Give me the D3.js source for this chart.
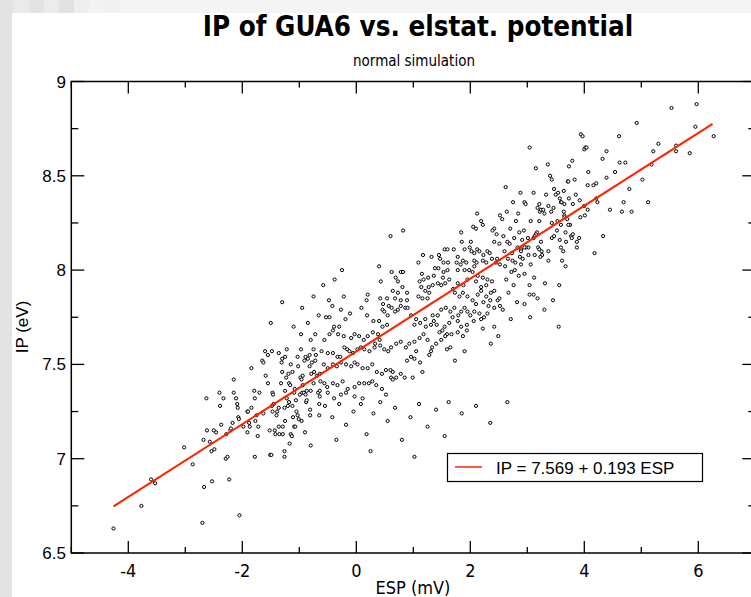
<!DOCTYPE html>
<html>
<head>
<meta charset="utf-8">
<script src="https://cdn.jsdelivr.net/npm/d3@7"></script>
<style>
  body { margin: 0; background: #e3e3e3; }
  svg { display: block; }
  text { fill: #000; }
</style>
</head>
<body>
<div id="vis"></div>
<script>
// values
var esp = [
  -4.26,-3.77,-3.60,-3.53,-3.02,-2.87,-2.70,-2.67,-2.68,-2.53,-2.62,-2.63,-2.57,-2.54,-2.49,-2.50,-2.46,-2.40,-2.39,-2.37,
  -2.33,-2.28,-2.29,-2.26,-2.23,-2.21,-2.20,-2.17,-2.15,-2.15,-2.11,-2.09,-2.08,-2.07,-2.06,-2.05,-1.98,-1.91,-1.90,-1.88,
  -1.91,-1.87,-1.84,-1.84,-1.79,-1.78,-1.78,-1.77,-1.75,-1.73,-1.72,-1.70,-1.65,-1.63,-1.63,-1.60,-1.59,-1.55,-1.55,-1.52,
  -1.51,-1.49,-1.48,-1.47,-1.46,-1.48,-1.47,-1.45,-1.43,-1.42,-1.40,-1.39,-1.36,-1.36,-1.35,-1.36,-1.32,-1.31,-1.30,-1.30,
  -1.29,-1.29,-1.26,-1.26,-1.26,-1.25,-1.25,-1.25,-1.23,-1.22,-1.22,-1.20,-1.19,-1.18,-1.18,-1.17,-1.16,-1.15,-1.15,-1.13,
  -1.12,-1.11,-1.12,-1.09,-1.09,-1.08,-1.07,-1.06,-1.05,-1.03,-1.03,-1.02,-1.01,-0.99,-0.98,-0.97,-0.97,-0.96,-0.96,-0.95,
  -0.94,-0.94,-0.92,-0.91,-0.90,-0.89,-0.89,-0.88,-0.87,-0.87,-0.85,-0.82,-0.82,-0.81,-0.81,-0.80,-0.80,-0.80,-0.79,-0.78,
  -0.75,-0.75,-0.74,-0.72,-0.72,-0.71,-0.69,-0.67,-0.65,-0.65,-0.64,-0.64,-0.64,-0.63,
  3.04,3.15,3.36,3.40,3.43,3.71,3.72,3.73,3.79,3.83,3.94,3.97,4.00,4.02,4.04,4.07,4.06,4.16,4.21,4.32,
  4.39,4.39,4.54,4.61,4.62,4.72,4.92,5.02,4.79,4.69,4.66,4.45,4.23,4.21,4.83,5.12,5.18,5.21,5.30,5.53,
  5.61,5.61,5.85,5.95,5.97,6.27,4.33,4.18,3.11,2.95,2.97,3.21,3.18,3.22,3.24,3.28,3.30,3.33,3.37,3.42,
  3.46,3.47,3.50,3.54,3.57,3.59,3.60,3.64,3.65,3.64,3.65,3.73,3.80,3.85,3.92,3.93,4.00,4.01,4.06,3.65,
  3.70,3.75,3.72,3.59,3.53,3.43,3.06,3.21,2.94,2.91,3.01,3.02,2.98,2.95,2.89,2.89,2.92,3.17,3.15,3.13,
  3.11,3.19,3.21,3.24,3.25,3.26,3.23,3.13,3.02,3.06,2.89,2.95,3.12,3.04,3.31,3.56,3.37,3.37,3.43,3.47,
  3.52,3.57,3.59,3.63,3.61,3.67,3.68,3.67,3.77,3.80,3.78,3.87,3.87,3.91,3.11,3.04,
  0.60,0.82,2.12,2.52,2.19,2.22,2.05,2.10,2.42,2.46,2.39,1.84,2.01,1.85,2.51,2.42,
  0.40,0.62,0.78,0.82,0.43,0.69,0.73,1.17,1.32,1.09,1.15,1.11,1.18,1.26,1.36,1.45,1.47,1.55,1.60,1.71,
  1.53,1.61,1.76,1.78,1.83,1.90,1.93,1.87,1.99,2.02,2.07,2.12,2.16,2.23,2.30,2.34,2.38,2.45,2.47,2.52,
  2.22,2.28,2.07,2.11,1.60,1.53,1.44,1.38,1.52,1.63,1.56,1.49,1.43,1.34,1.27,1.21,1.14,1.09,1.16,1.25,1.28,
  1.78,1.90,1.98,2.04,2.07,2.13,2.22,2.30,2.38,2.28,2.19,2.10,1.95,1.88,1.78,1.70,1.73,1.81,1.87,1.95,
  2.04,2.10,2.13,2.19,2.28,2.36,2.42,2.48,2.52,2.42,2.32,2.23,2.35,2.51,
  -0.22,0.20,0.18,0.54,0.64,0.73,0.81,0.89,0.89,0.78,0.68,0.57,0.62,0.42,0.47,0.46,0.49,0.55,0.68,0.73,
  0.78,0.86,0.90,0.96,1.05,1.02,1.12,1.21,1.22,1.31,1.36,1.41,1.34,1.43,1.49,1.57,1.65,1.72,1.69,1.79,
  1.84,1.90,1.95,2.00,2.07,2.16,2.24,2.30,2.19,2.06,1.94,1.84,1.78,1.63,1.55,1.51,1.46,1.59,1.67,1.78,
  1.87,1.94,2.42,2.22,2.36,2.49,
  -0.53,-0.47,-0.42,-0.27,-0.19,-0.11,0.09,0.19,0.30,0.40,0.46,0.54,0.29,0.38,0.41,0.33,0.20,0.13,0.05,-0.03,
  -0.09,-0.22,-0.32,-0.41,-0.39,-0.47,-0.56,-0.61,-0.50,-0.41,-0.33,-0.28,-0.21,-0.16,-0.12,-0.06,0.02,0.08,0.14,0.23,
  0.32,0.42,0.49,0.56,0.61,0.70,0.78,0.87,0.93,1.02,1.11,1.18,1.25,1.33,1.40,1.49,1.56,1.31,1.59,1.65,
  -0.57,-0.50,-0.41,-0.34,-0.27,-0.18,-0.09,-0.03,0.02,0.11,0.20,0.28,0.36,0.45,0.52,0.60,0.64,0.70,0.78,0.85,
  0.99,1.16,1.73,1.90,1.28,1.05,0.96,0.89,1.02,1.12,
  -0.56,-0.51,-0.41,-0.33,-0.24,-0.15,-0.03,0.05,0.14,0.22,0.28,0.35,0.45,0.52,0.61,0.64,-0.50,-0.39,-0.27,-0.18,
  -0.03,0.11,
  2.56,2.58,2.60,2.61,2.63,2.64,2.66,2.67,2.69,2.70,2.72,2.73,2.75,2.76,2.77,2.79,2.80,2.82,2.83,2.85,
  2.86,2.87,2.88,2.57,2.62,2.71,2.78,2.84,2.65,2.74,
  -0.55,-0.42,-0.30,-0.18,-0.05,0.08,0.18,0.30,0.42,0.55,0.68,0.80,0.95,1.10,1.25,1.40,1.62,1.85,2.10,2.35,
  0.25,1.02,-0.35,2.65,1.55,
  -0.95,-0.85,-0.75,-0.66,-0.58,-0.48,-0.38,-0.30,-0.25,-1.10,-1.30,-1.50,
  2.95,3.05,3.18,3.30,3.45,3.55
];
var ip = [
  6.63,6.75,6.89,6.87,7.06,6.97,6.66,6.85,7.10,6.88,7.15,7.32,7.09,7.04,7.05,7.15,7.14,7.35,7.28,7.18,
  7.32,7.13,7.00,7.01,6.89,7.15,7.16,7.19,7.35,7.42,7.32,7.29,7.27,7.22,7.21,6.70,7.17,7.25,7.25,7.19,
  7.14,7.17,7.27,7.48,7.36,7.32,7.01,7.20,7.23,7.12,7.17,7.35,7.52,7.51,7.24,7.57,7.44,7.55,7.40,7.15,
  7.02,7.02,7.57,7.35,7.34,7.28,7.25,7.29,7.15,7.13,7.23,7.25,7.17,7.56,7.13,7.27,7.40,7.51,7.53,7.46,
  7.17,7.13,7.04,7.01,7.27,7.36,7.54,7.20,7.43,7.32,7.58,7.28,7.45,7.30,7.40,7.08,7.39,7.50,7.13,7.12,
  7.46,7.22,7.28,7.17,7.35,7.37,7.17,7.31,7.25,7.54,7.23,7.49,7.21,7.34,7.43,7.66,7.58,7.42,7.20,7.35,
  7.39,7.44,7.35,7.52,7.14,7.54,7.34,7.30,7.36,7.31,7.53,7.49,7.55,7.26,7.23,7.36,7.07,7.63,7.45,7.51,
  7.58,7.40,7.46,7.66,7.52,7.55,7.44,7.35,7.23,7.29,7.45,7.36,7.33,7.41,
  8.65,8.54,8.56,8.50,8.48,8.47,8.47,8.55,8.58,8.48,8.72,8.71,8.64,8.65,8.65,8.52,8.45,8.45,8.46,8.59,
  8.63,8.49,8.52,8.71,8.57,8.57,8.78,8.48,8.43,8.36,8.31,8.32,8.36,8.38,8.31,8.36,8.56,8.63,8.67,8.86,
  8.66,8.63,8.62,8.76,8.88,8.71,8.18,8.09,8.41,8.36,8.35,8.35,8.33,8.31,8.32,8.32,8.30,8.40,8.34,8.31,
  8.33,8.43,8.40,8.41,8.38,8.36,8.36,8.42,8.35,8.31,8.29,8.38,8.35,8.40,8.37,8.28,8.34,8.29,8.32,8.28,
  8.27,8.24,8.24,8.24,8.26,8.25,8.26,8.26,8.21,8.16,8.17,8.12,8.12,8.12,8.11,8.10,8.06,8.20,8.19,8.18,
  8.17,8.12,8.11,8.15,8.10,8.08,8.07,8.08,8.08,8.03,8.03,7.98,7.96,7.92,7.93,7.92,8.05,8.10,8.17,8.18,
  8.21,8.16,8.12,8.10,8.05,8.02,8.15,8.20,8.18,8.19,8.17,8.15,8.12,8.17,7.87,7.87,
  8.18,8.21,8.30,8.29,8.26,8.24,8.23,8.22,8.22,8.19,8.21,8.20,8.15,8.15,8.14,8.15,
  8.02,7.99,7.99,7.99,7.94,7.96,7.94,8.08,8.07,8.04,7.98,7.94,7.95,7.96,7.97,8.08,8.06,8.11,8.11,8.11,
  8.04,8.04,8.04,8.07,8.03,8.11,8.04,8.05,8.12,8.10,8.09,8.11,8.10,8.08,8.10,8.09,8.06,8.04,8.06,8.03,
  8.05,8.04,8.05,8.04,8.00,7.99,8.01,8.01,7.96,7.95,7.93,7.92,7.93,7.92,7.91,7.89,7.91,7.86,7.85,7.85,7.88,
  8.00,8.00,8.00,7.99,8.02,7.97,7.96,7.95,7.94,7.92,7.91,7.94,7.95,7.92,7.93,7.90,7.88,7.86,7.88,7.86,
  7.84,7.82,7.87,7.89,7.86,7.88,7.89,7.84,7.81,7.80,7.81,7.83,7.84,7.85,
  7.86,7.87,7.84,7.85,7.89,7.88,7.91,7.88,7.84,7.84,7.85,7.81,7.80,7.85,7.82,7.79,7.78,7.76,7.78,7.79,
  7.81,7.80,7.80,7.76,7.74,7.71,7.72,7.74,7.70,7.71,7.73,7.71,7.76,7.76,7.79,7.80,7.78,7.80,7.75,7.76,
  7.78,7.80,7.78,7.76,7.78,7.77,7.75,7.77,7.74,7.73,7.71,7.70,7.73,7.72,7.70,7.68,7.67,7.66,7.66,7.67,
  7.65,7.68,7.70,7.69,7.61,7.65,
  7.75,7.75,7.81,7.79,7.74,7.77,7.80,7.76,7.73,7.73,7.70,7.71,7.67,7.66,7.63,7.61,7.65,7.63,7.65,7.66,
  7.64,7.65,7.66,7.68,7.70,7.66,7.63,7.57,7.56,7.56,7.54,7.54,7.59,7.58,7.57,7.56,7.58,7.59,7.58,7.57,
  7.59,7.60,7.58,7.57,7.59,7.61,7.62,7.59,7.61,7.62,7.64,7.66,7.63,7.59,7.61,7.63,7.65,7.57,7.58,7.59,
  7.50,7.48,7.50,7.49,7.51,7.50,7.49,7.51,7.50,7.48,7.48,7.50,7.46,7.45,7.47,7.47,7.46,7.43,7.45,7.43,
  7.43,7.46,7.52,7.57,7.55,7.57,7.54,7.52,7.53,7.51,
  7.40,7.38,7.40,7.39,7.41,7.37,7.38,7.40,7.40,7.40,7.41,7.39,7.37,7.34,7.43,7.42,7.35,7.32,7.34,7.35,
  7.33,7.32,
  8.27,8.18,8.10,8.02,7.95,8.31,8.06,7.88,8.14,8.22,7.99,8.09,8.36,7.92,8.17,8.04,8.26,7.83,8.12,7.97,
  8.20,8.07,8.41,7.79,8.44,7.74,8.00,8.30,8.15,8.05,
  7.28,7.22,7.29,7.18,7.25,7.29,7.13,7.24,7.30,7.20,7.27,7.10,7.22,7.29,7.17,7.26,7.30,7.24,7.28,7.19,
  7.04,7.01,7.10,7.30,7.12,
  7.80,7.72,7.86,7.76,7.92,7.84,7.95,7.70,8.00,7.70,7.83,7.72,
  7.82,7.75,7.85,7.79,7.84,7.70
];

var fitIntercept = 7.569, fitSlope = 0.193;
var fitRange = [-4.26, 6.25];
var fitLabel = "IP = 7.569 + 0.193 ESP";

var xMajor = [-4, -2, 0, 2, 4, 6],
    xMinor = [-5, -3, -1, 1, 3, 5, 7],
    yMajor = [6.5, 7, 7.5, 8, 8.5, 9],
    yMinor = [6.75, 7.25, 7.75, 8.25, 8.75];

var width = 751, height = 597;
var frameL = 71.3, frameR = 755.3, frameT = 81.5, frameB = 553;

var x = d3.scaleLinear().domain([-5, 7]).range([frameL, frameR]);
var y = d3.scaleLinear().domain([6.5, 9]).range([frameB, frameT]);

var svg = d3.select("#vis").append("svg")
    .attr("width", width)
    .attr("height", height);

// grey window chrome + white page
svg.append("rect").attr("width", width).attr("height", height).attr("fill", "#e3e3e3");
var stripShades = ["#eaeaea", "#e3e3e3", "#ececec", "#e2e2e2", "#efefef", "#f3f3f3", "#f1f1f1", "#f4f4f4"];
for (var i = 0; i < 50; i++) {
    svg.append("rect")
        .attr("x", 14 + i * 15).attr("y", 0)
        .attr("width", 15).attr("height", 13)
        .attr("fill", stripShades[Math.min(stripShades.length - 1, i)]);
}
svg.append("rect").attr("x", 12).attr("y", 13).attr("width", width).attr("height", height)
    .attr("fill", "#fff");

var condensed = "'Liberation Sans Narrow', 'DejaVu Sans Condensed', 'Liberation Sans', sans-serif";
var helv = "'Liberation Sans', Arial, sans-serif";

svg.append("text")
    .attr("x", 418).attr("y", 36)
    .attr("text-anchor", "middle")
    .style("font-family", condensed)
    .style("font-weight", "bold")
    .style("font-size", "27.5px")
    .text("IP of GUA6 vs. elstat. potential");

svg.append("text")
    .attr("x", 414).attr("y", 66)
    .attr("text-anchor", "middle")
    .style("font-family", condensed)
    .style("font-size", "15px")
    .text("normal simulation");

var plot = svg.append("g");

// ticks, inward on all four sides
var tickG = plot.append("g").attr("stroke", "#000").attr("stroke-width", 1.3);
function vTicks(vals, len) {
    vals.forEach(function(v) {
        tickG.append("line").attr("x1", x(v)).attr("x2", x(v)).attr("y1", frameB).attr("y2", frameB - len);
        tickG.append("line").attr("x1", x(v)).attr("x2", x(v)).attr("y1", frameT).attr("y2", frameT + len);
    });
}
function hTicks(vals, len) {
    vals.forEach(function(v) {
        tickG.append("line").attr("y1", y(v)).attr("y2", y(v)).attr("x1", frameL).attr("x2", frameL + len);
        tickG.append("line").attr("y1", y(v)).attr("y2", y(v)).attr("x1", frameR).attr("x2", frameR - len);
    });
}
vTicks(xMajor, 12); vTicks(xMinor, 6);
hTicks(yMajor, 13); hTicks(yMinor, 7);

plot.append("rect")
    .attr("x", frameL).attr("y", frameT)
    .attr("width", frameR - frameL).attr("height", frameB - frameT)
    .attr("fill", "none").attr("stroke", "#000").attr("stroke-width", 1.5);

plot.selectAll("text.xl").data(xMajor).enter().append("text")
    .attr("class", "xl")
    .attr("x", function(d) { return x(d); })
    .attr("y", 577)
    .attr("text-anchor", "middle")
    .style("font-family", condensed)
    .style("font-size", "18px")
    .text(function(d) { return d; });

plot.selectAll("text.yl").data(yMajor).enter().append("text")
    .attr("class", "yl")
    .attr("x", 66)
    .attr("y", function(d) { return y(d) + 6; })
    .attr("text-anchor", "end")
    .style("font-family", helv)
    .style("font-size", "17px")
    .text(function(d) { return d; });

svg.append("text")
    .attr("x", 413).attr("y", 594)
    .attr("text-anchor", "middle")
    .style("font-family", condensed)
    .style("font-size", "18px")
    .text("ESP (mV)");

svg.append("text")
    .attr("transform", "translate(28,327) rotate(-90)")
    .attr("text-anchor", "middle")
    .style("font-family", helv)
    .style("font-size", "17px")
    .text("IP (eV)");

// scatter
var n = Math.min(esp.length, ip.length);
var pts = d3.range(n).map(function(i) { return [esp[i], ip[i]]; });
plot.append("g").selectAll("circle").data(pts).enter().append("circle")
    .attr("cx", function(d) { return x(d[0]); })
    .attr("cy", function(d) { return y(d[1]); })
    .attr("r", 1.6)
    .attr("fill", "#fff")
    .attr("stroke", "#000")
    .attr("stroke-width", 1);

// regression line
var line = d3.line()
    .x(function(d) { return x(d); })
    .y(function(d) { return y(fitIntercept + fitSlope * d); });
plot.append("path")
    .datum(fitRange)
    .attr("d", line)
    .attr("fill", "none")
    .attr("stroke", "#ff2200")
    .attr("stroke-width", 2);

// legend
var lg = svg.append("g");
lg.append("rect")
    .attr("x", 447.5).attr("y", 453.5).attr("width", 255).attr("height", 28)
    .attr("fill", "#fff").attr("stroke", "#000").attr("stroke-width", 1.2);
lg.append("line")
    .attr("x1", 455).attr("x2", 482).attr("y1", 467).attr("y2", 467)
    .attr("stroke", "#ff2200").attr("stroke-width", 1.5);
lg.append("text")
    .attr("x", 496).attr("y", 474)
    .style("font-family", helv)
    .style("font-size", "17px")
    .text(fitLabel);
</script>
</body>
</html>
